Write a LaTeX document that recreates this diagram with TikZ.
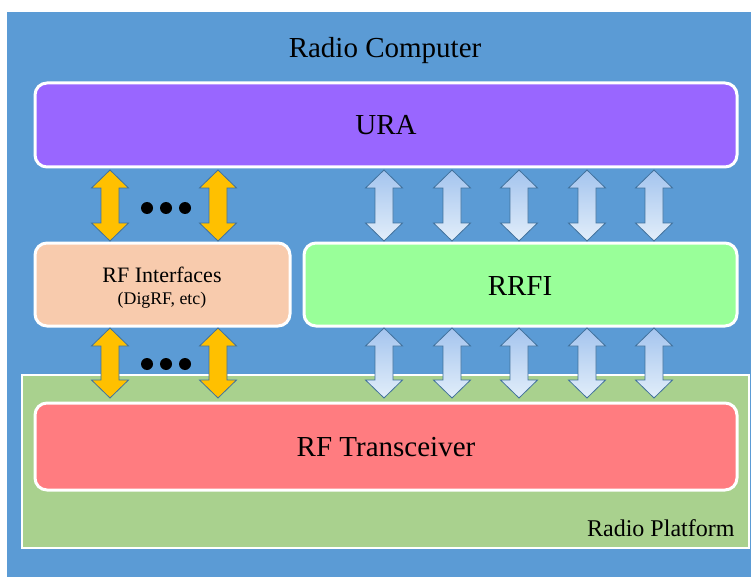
\documentclass[tikz,border=0pt]{standalone}
\usepackage{fontspec}
\setmainfont{Liberation Serif}
\definecolor{bgblue}{HTML}{5B9BD5}
\definecolor{urapurple}{HTML}{9966FF}
\definecolor{rfipeach}{HTML}{F8CBAD}
\definecolor{rrfigreen}{HTML}{99FF99}
\definecolor{platgreen}{HTML}{A9D18E}
\definecolor{trxred}{HTML}{FF7C80}
\definecolor{arryellow}{HTML}{FFC000}
\definecolor{arredge}{HTML}{41719C}
\definecolor{arrtop}{HTML}{A4C4EE}
\definecolor{arrbot}{HTML}{E2EEFA}
\begin{document}
\begin{tikzpicture}[x=1pt,y=-1pt,
  blockbox/.style={draw=white, line width=3pt, rounded corners=12pt},
  bigtext/.style={font=\fontsize{29}{34}\selectfont},
  yellowarr/.style={fill=arryellow, draw=arredge, line width=0.8pt, line join=miter},
  bluearr/.style={top color=arrtop, bottom color=arrbot, draw=arredge, line width=0.8pt, line join=miter},
  dotmark/.style={circle, fill=black, inner sep=0pt, minimum size=12pt}]
\useasboundingbox (0,0) rectangle (751,577);
\fill[white] (0,0) rectangle (751,577);
% outer radio computer
\fill[bgblue] (7,12) rectangle (751,577);
\node[bigtext] (rc) at (385,51) {Radio Computer};
% radio platform
\draw[fill=platgreen, draw=white, line width=2.5pt] (22,375) rectangle (749,548);
\node[font=\fontsize{24}{28}\selectfont, anchor=east] (rp) at (738,528) {Radio Platform};
% boxes
\draw[blockbox, fill=urapurple] (35,83) rectangle (737,167);
\node[bigtext] (ura) at (386,125) {URA};
\draw[blockbox, fill=rfipeach] (35,243) rectangle (290,326);
\node[font=\fontsize{22}{26}\selectfont] (rfi) at (162,275) {RF Interfaces};
\node[font=\fontsize{17.8}{21}\selectfont] (rfisub) at (162,300) {(DigRF, etc)};
\draw[blockbox, fill=rrfigreen] (304,243) rectangle (737,326);
\node[bigtext] (rrfi) at (520,286) {RRFI};
\draw[blockbox, fill=trxred] (35,403) rectangle (737,490);
\node[bigtext] (trx) at (386,447) {RF Transceiver};
% arrows
\newcommand{\dblarr}[4]{%
  \draw[#4] (#1,#2) -- ++(18.5,18) -- ++(-9.5,0) -- (#1+9,#3-18) -- ++(9.5,0)
    -- (#1,#3) -- ++(-18.5,-18) -- ++(9.5,0) -- (#1-9,#2+18) -- ++(-9.5,0) -- cycle;}
\foreach \cx in {110,218} {
  \dblarr{\cx}{170}{241}{yellowarr}
  \dblarr{\cx}{328}{398}{yellowarr}
}
\foreach \cx in {384,452,519,587,654} {
  \dblarr{\cx}{170}{241}{bluearr}
  \dblarr{\cx}{328}{398}{bluearr}
}
% dots
\foreach \dx [count=\i] in {147,166,185} {
  \node[dotmark] (dta\i) at (\dx,208) {};
  \node[dotmark] (dtb\i) at (\dx,364) {};
}
\end{tikzpicture}
\end{document}
